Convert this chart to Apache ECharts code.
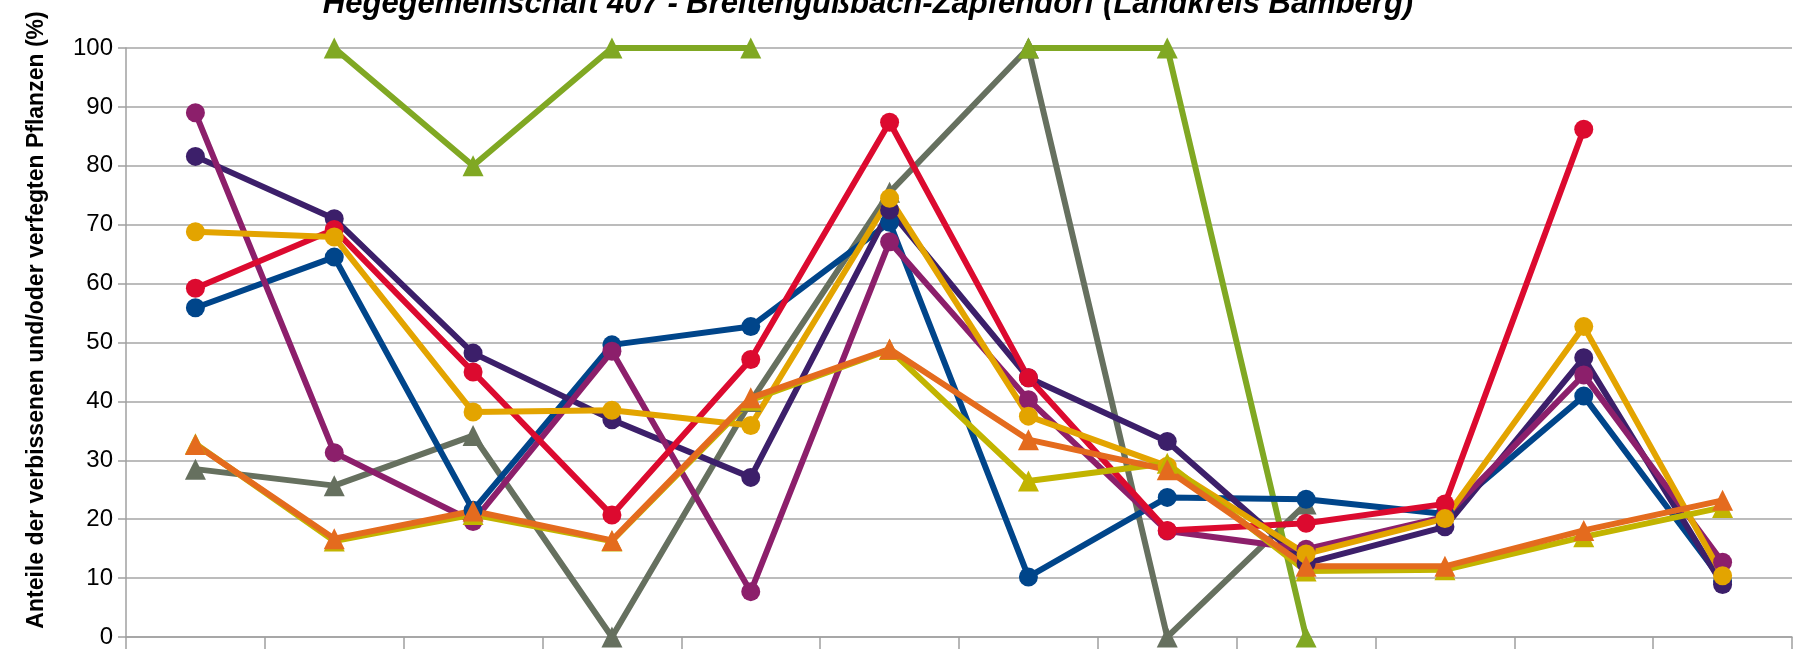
<!DOCTYPE html>
<html>
<head>
<meta charset="utf-8">
<script src="https://cdn.jsdelivr.net/npm/echarts@6/dist/echarts.min.js"></script>
<style>
  html, body { margin: 0; padding: 0; background: #fff; }
  #myChart { width: 1800px; height: 649px; }
</style>
</head>
<body>
<div id="myChart"></div>
<script>
var categories = ["1", "2", "3", "4", "5", "6", "7", "8", "9", "10", "11", "12"];
var yTicks = [0, 10, 20, 30, 40, 50, 60, 70, 80, 90, 100];

// Kreise
var blau = [55.9, 64.5, 21.5, 49.6, 52.7, 70.4, 10.2, 23.7, 23.4, 20.9, 40.9, 9.5];
var lila = [81.6, 71.0, 48.2, 36.9, 27.1, 72.5, 44.0, 33.2, 12.5, 18.7, 47.4, 8.9];
var magenta = [89.0, 31.3, 19.6, 48.5, 7.7, 67.1, 40.3, 18.0, 14.9, 20.4, 44.5, 12.7];
var rot = [59.2, 69.2, 45.0, 20.7, 47.1, 87.4, 44.0, 18.1, 19.3, 22.6, 86.2, null];
var gold = [68.8, 67.9, 38.2, 38.5, 35.9, 74.5, 37.5, 29.0, 14.1, 20.1, 52.7, 10.4];
// Dreiecke
var grau = [28.5, 25.7, 34.2, 0, 40.0, 75.5, 100, 0, 22.6, null, null, null];
var gruen = [null, 100, 80, 100, 100, null, 100, 100, 0, null, null, null];
var gelb = [32.8, 16.3, 20.8, 16.3, 40.2, 48.8, 26.5, 29.5, 11.2, 11.4, 17.0, 22.0];
var orange = [32.7, 16.7, 21.4, 16.4, 40.6, 48.9, 33.5, 28.4, 12.0, 12.0, 18.1, 23.2];

var font = "Liberation Sans";
var chartDom = echarts.init(document.getElementById("myChart"));

function lineSeries(name, data, color, symbol, size) {
  return {
    name: name,
    type: "line",
    data: data,
    symbol: symbol,
    symbolSize: size,
    color: color,
    lineStyle: { width: 6, color: color },
    itemStyle: { color: color },
    connectNulls: false,
  };
}

var option = {
  animation: false,
  grid: { left: 126, right: 8, top: 48, bottom: 9 },
  graphic: [
    {
      type: "text",
      style: {
        text: "Hegegemeinschaft 407 - Breitengüßbach-Zapfendorf (Landkreis Bamberg)",
        x: 868,
        y: 20,
        align: "center",
        verticalAlign: "bottom",
        fontFamily: font,
        fontSize: 31,
        fontWeight: "bold",
        fontStyle: "italic",
        fill: "#000",
      },
    },
    {
      type: "text",
      x: 37,
      y: 320,
      rotation: Math.PI / 2,
      style: {
        text: "Anteile der verbissenen und/oder verfegten Pflanzen (%)",
        align: "center",
        verticalAlign: "middle",
        fontFamily: font,
        fontSize: 23,
        fontWeight: "bold",
        fill: "#000",
      },
    },
  ],
  xAxis: {
    type: "category",
    data: categories,
    boundaryGap: true,
    axisLine: { lineStyle: { color: "#a0a0a0", width: 1.5 } },
    axisTick: { show: true, length: 12, lineStyle: { color: "#a0a0a0", width: 1.5 } },
    axisLabel: { show: false },
  },
  yAxis: {
    type: "value",
    min: 0,
    max: 100,
    interval: 10,
    axisLine: { show: true, lineStyle: { color: "#a0a0a0", width: 1.5 } },
    axisTick: { show: true, length: 8, lineStyle: { color: "#a0a0a0", width: 1.5 } },
    splitLine: { show: true, lineStyle: { color: "#a6a6a6", width: 1.5 } },
    axisLabel: {
      margin: 13,
      fontFamily: font,
      fontSize: 24,
      color: "#000",
      formatter: function (v) {
        return yTicks.indexOf(v) >= 0 ? String(v) : "";
      },
    },
  },
  series: [
    lineSeries("grau", grau, "#66705f", "triangle", 21),
    lineSeries("gruen", gruen, "#80a823", "triangle", 21),
    lineSeries("blau", blau, "#00458a", "circle", 19),
    lineSeries("lila", lila, "#3c1f6a", "circle", 19),
    lineSeries("magenta", magenta, "#8c1f6b", "circle", 19),
    lineSeries("rot", rot, "#dc0a2f", "circle", 19),
    lineSeries("gold", gold, "#e3a400", "circle", 19),
    lineSeries("gelb", gelb, "#c2b400", "triangle", 21),
    lineSeries("orange", orange, "#e46b1e", "triangle", 21),
  ],
};
chartDom.setOption(option);
</script>
</body>
</html>
